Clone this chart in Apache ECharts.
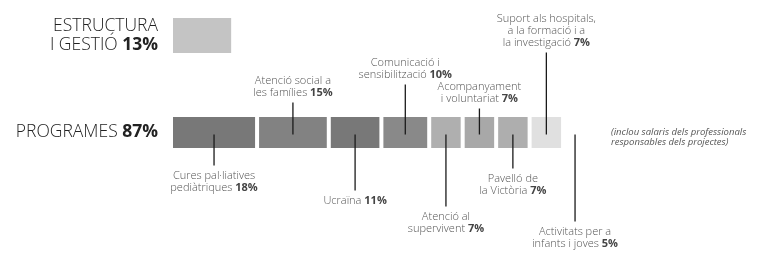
<!DOCTYPE html>
<html><head><meta charset="utf-8">
<script src="https://cdn.jsdelivr.net/npm/echarts@6/dist/echarts.min.js"></script>
<style>html,body{margin:0;padding:0;background:#fff}#c{width:765px;height:255px}</style>
</head><body><div id="c"></div>
<script>
// ---- data ----
const groupLabels = ['ESTRUCTURA\nI GESTIÓ', 'PROGRAMES'];
const groupPct = [13, 87];
const programNames = [
  'Cures pal·liatives\npediàtriques',
  'Atenció social a\nles famílies',
  'Ucraïna',
  'Comunicació i\nsensibilització',
  'Atenció al\nsupervivent',
  'Acompanyament\ni voluntariat',
  'Pavelló de\nla Victòria',
  'Suport als hospitals,\na la formació i a\nla investigació',
  'Activitats per a\ninfants i joves'
];
const programPct = [18, 15, 11, 10, 7, 7, 7, 7, 5];
const noteText = '(inclou salaris dels professionals\nresponsables dels projectes)';

// ---- styles / layout ----
const programColors = ['#787878', '#828282', '#787878', '#898989', '#afafaf', '#a8a8a8', '#aeaeae', '#e0e0e0', '#ffffff'];
const structureColor = '#c4c4c4';
const leaderDir = ['down', 'up', 'down', 'up', 'down', 'up', 'down', 'up', 'down'];
const leaderLen = [33, 30, 58, 48, 74, 24, 36, 80, 89];
const GAP = 4, PROG_H = 31, STRUCT_H = 35, TEXT_GAP = 4;
const FONT = '"Open Sans", "Noto Sans", sans-serif';

// cumulative starts
const starts = [];
programPct.reduce((acc, v) => { starts.push(acc); return acc + v; }, 0);
const programData = programPct.map((v, i) => [starts[i], v, 1]);
const structData = [[0, groupPct[0], 0]];

function renderStruct(params, api) {
  const p = api.coord([api.value(0), api.value(2)]);
  const w = api.size([api.value(1), 0])[0] - GAP;
  return { type: 'rect', shape: { x: p[0], y: p[1] - STRUCT_H / 2, width: w, height: STRUCT_H }, style: { fill: structureColor } };
}

function renderProgram(params, api) {
  const i = params.dataIndex;
  const p = api.coord([api.value(0), api.value(2)]);
  const w = api.size([api.value(1), 0])[0] - GAP;
  const x = p[0], yc = p[1];
  const cx = x + w / 2;
  const dir = leaderDir[i] === 'up' ? -1 : 1;
  const y0 = yc + 2;
  const y1 = yc + dir * leaderLen[i];
  const label = programNames[i] + ' {b|' + programPct[i] + '%}';
  return {
    type: 'group',
    children: [
      { type: 'rect', shape: { x: x, y: yc - PROG_H / 2, width: w, height: PROG_H }, style: { fill: programColors[i] } },
      { type: 'line', shape: { x1: cx, y1: y0, x2: cx, y2: y1 }, style: { stroke: '#1a1a1a', lineWidth: 1.3 } },
      { type: 'text', style: {
          text: label, x: cx, y: y1 + dir * TEXT_GAP,
          align: 'center', verticalAlign: dir < 0 ? 'bottom' : 'top',
          fontSize: 11, lineHeight: 12, fontFamily: FONT, fontWeight: 300, fill: '#555',
          rich: { b: { fontSize: 11, fontWeight: 'bold', fontFamily: FONT, fill: '#444' } }
        } }
    ]
  };
}

const chart = echarts.init(document.getElementById('c'));
chart.setOption({
  animation: false,
  grid: { left: 173, width: 416, top: 35.5, height: 97 },
  xAxis: { type: 'value', min: 0, max: 87, show: false },
  yAxis: {
    type: 'category', data: groupLabels, inverse: true, boundaryGap: false,
    axisLine: { show: false }, axisTick: { show: false }, splitLine: { show: false },
    axisLabel: {
      margin: 15,
      formatter: function (value, index) {
        const lines = value.split('\n');
        return lines.map((l, k) => k === lines.length - 1 ? '{n|' + l + ' }{b|' + groupPct[index] + '%}' : '{n|' + l + '}').join('\n');
      },
      rich: {
        n: { fontSize: 17.5, fontFamily: FONT, fontWeight: 300, color: '#222', lineHeight: 19 },
        b: { fontSize: 17.5, fontFamily: FONT, fontWeight: 'bold', color: '#222', lineHeight: 19 }
      }
    }
  },
  graphic: [{
    type: 'text', left: 611, top: 127,
    style: { text: noteText, fontSize: 9.5, fontStyle: 'italic', fontFamily: FONT, fill: '#555', lineHeight: 10.5 }
  }],
  series: [
    { type: 'custom', renderItem: renderStruct, data: structData, encode: { x: [0, 1], y: 2 }, clip: false },
    { type: 'custom', renderItem: renderProgram, data: programData, encode: { x: [0, 1], y: 2 }, clip: false }
  ]
});
</script>
</body></html>
